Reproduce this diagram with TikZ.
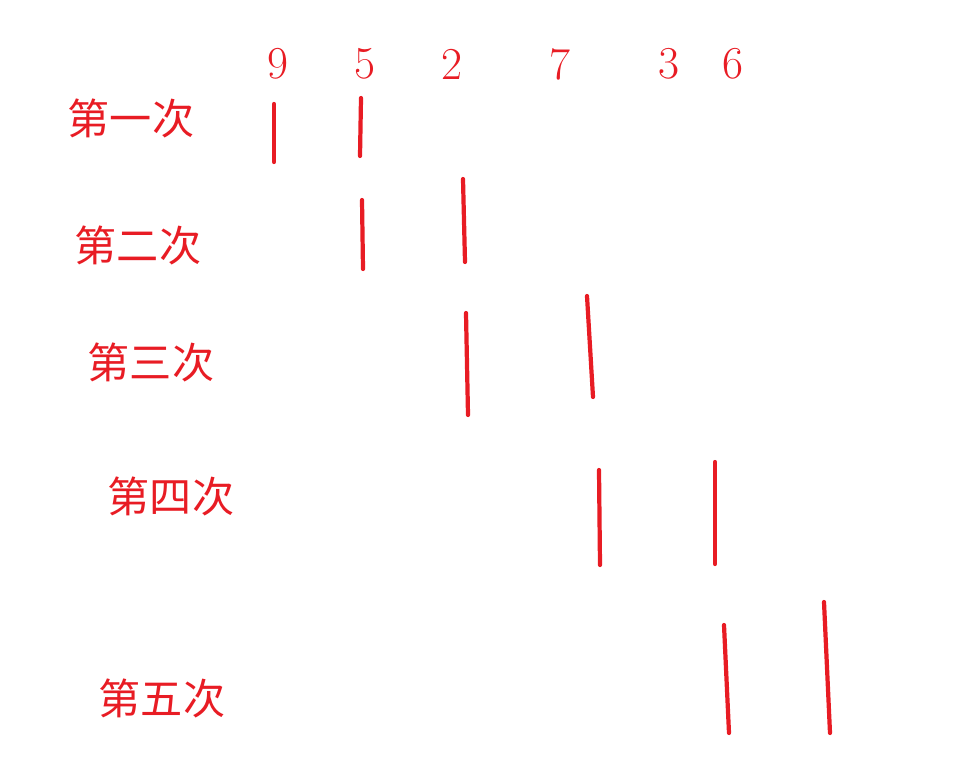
\documentclass[tikz,border=0pt]{standalone}
\usepackage{fontspec}
\newfontfamily\cjk{Noto Sans CJK SC}
\definecolor{markred}{RGB}{232,28,36}

\begin{document}
\begin{tikzpicture}[x=0.02cm, y=-0.02cm,
  num/.style = {text=markred, inner sep=0pt, font=\fontsize{26}{30}\selectfont},
  pass/.style = {text=markred, inner sep=0pt, font=\cjk\fontsize{24}{28}\selectfont},
  cut/.style = {draw=markred, line width=2.4pt, line cap=round}]
\useasboundingbox (0,0) rectangle (967,767);

% numbers
\node[num] (n9) at (278,64) {9};
\node[num] (n5) at (365,64) {5};
\node[num] (n2) at (452,64) {2};
\node[num] (n7) at (560,64) {7};
\node[num] (n3) at (669,64) {3};
\node[num] (n6) at (733,64) {6};

% passes
\node[pass] (p1) at (131,118) {第一次};
\node[pass] (p2) at (138,245) {第二次};
\node[pass] (p3) at (151,362) {第三次};
\node[pass] (p4) at (171,496) {第四次};
\node[pass] (p5) at (162,698) {第五次};

% compared pairs
\draw[cut] (274,104) -- (274,162);
\draw[cut] (361,98) -- (360,156);
\draw[cut] (362,200) -- (363,269);
\draw[cut] (463,179) -- (465,262);
\draw[cut] (466,313) -- (468,415);
\draw[cut] (587,296) -- (593,397);
\draw[cut] (599,470) -- (600,565);
\draw[cut] (715,462) -- (715,564);
\draw[cut] (724,625) -- (729,733);
\draw[cut] (824,602) -- (830,733);
\end{tikzpicture}
\end{document}
